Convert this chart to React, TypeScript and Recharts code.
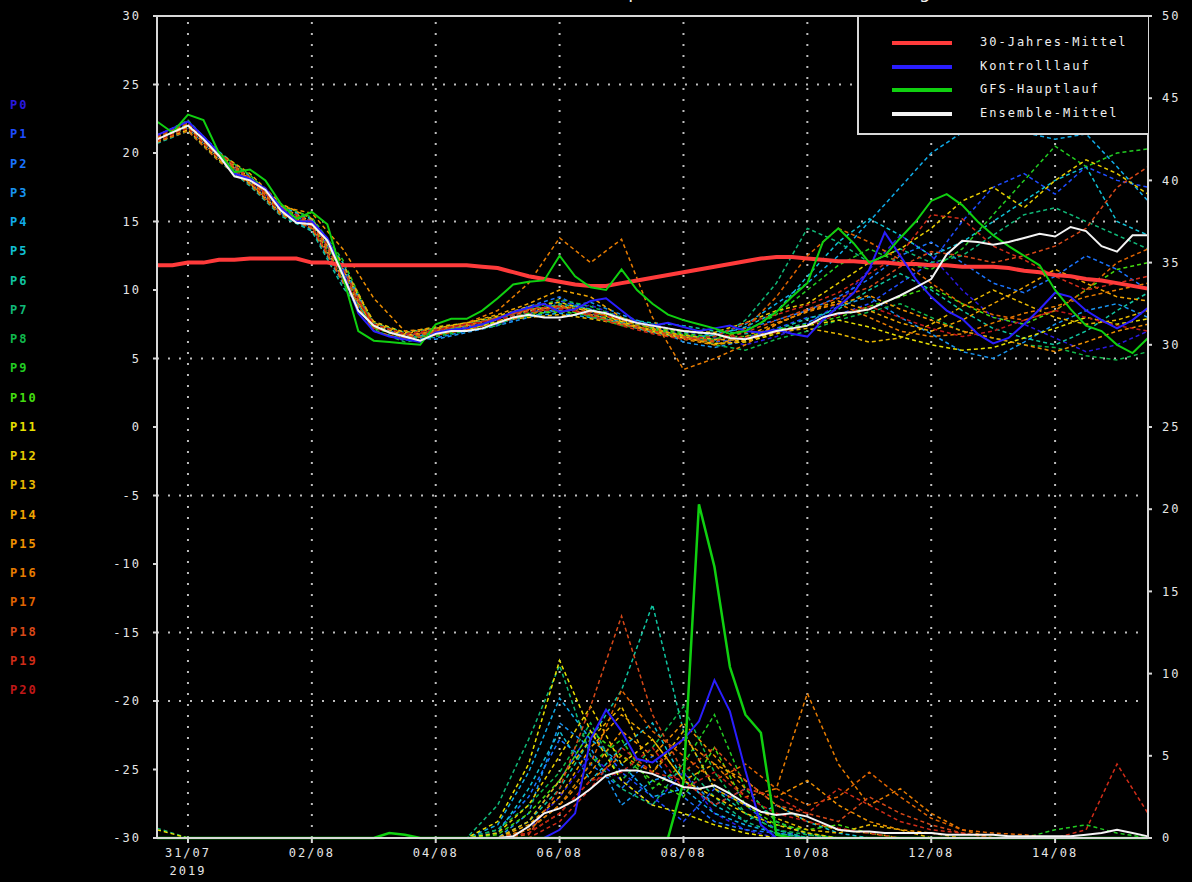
import { Line, LineChart, ReferenceLine, XAxis, YAxis } from "recharts";

// time axis: 6-hourly steps, step 0 = left edge of the frame
const steps = [
  0, 1, 2, 3, 4, 5, 6, 7, 8, 9, 10, 11, 12, 13, 14, 15, 16, 17, 18, 19, 20, 21, 22, 23, 24, 25, 26, 27, 28, 29, 30, 31,
  32, 33, 34, 35, 36, 37, 38, 39, 40, 41, 42, 43, 44, 45, 46, 47, 48, 49, 50, 51, 52, 53, 54, 55, 56, 57, 58, 59, 60,
  61, 62, 63, 64,
];
const dateTicks = [2, 10, 18, 26, 34, 42, 50, 58];
const dateLabels = ["31/07", "02/08", "04/08", "06/08", "08/08", "10/08", "12/08", "14/08"];
const yearLabel = "2019";

const tempTicks = [30, 25, 20, 15, 10, 5, 0, -5, -10, -15, -20, -25, -30];
const precipTicks = [0, 5, 10, 15, 20, 25, 30, 35, 40, 45, 50];
const tempGridLines = [25, 15, 5, -5, -15, -20];

// 6-hourly key series (temperature, °C)
const clim30 = [
  11.8, 11.8, 12.0, 12.0, 12.2, 12.2, 12.3, 12.3, 12.3, 12.3, 12.0, 12.0, 11.8, 11.8, 11.8, 11.8, 11.8, 11.8, 11.8, 11.8,
  11.8, 11.7, 11.6, 11.3, 11.0, 10.8, 10.6, 10.4, 10.3, 10.3, 10.5, 10.7, 10.9, 11.1, 11.3, 11.5, 11.7, 11.9, 12.1, 12.3,
  12.4, 12.4, 12.3, 12.2, 12.1, 12.1, 12.0, 12.0, 11.9, 11.9, 11.8, 11.8, 11.7, 11.7, 11.7, 11.6, 11.4, 11.3, 11.1, 11.0,
  10.8, 10.7, 10.5, 10.3, 10.1,
];
const tempControl = [
  21.3, 21.8, 22.3, 21.2, 20.0, 18.5, 18.1, 17.4, 16.0, 15.0, 15.0, 13.8, 11.3, 8.3, 7.0, 6.6, 6.4, 6.2, 6.9, 7.1,
  7.2, 7.5, 7.9, 8.4, 8.7, 9.0, 8.4, 8.6, 9.2, 9.4, 8.5, 7.6, 7.4, 7.6, 7.3, 7.0, 7.2, 7.4, 7.0, 6.9,
  7.1, 6.8, 6.6, 7.8, 8.8, 9.8, 11.5, 14.2, 12.5, 10.8, 9.5, 8.5, 7.9, 6.8, 6.1, 6.5, 7.5, 8.6, 9.8, 9.5,
  8.5, 7.8, 7.2, 7.8, 8.7,
];
const tempGfs = [
  22.3, 21.5, 22.8, 22.4, 20.0, 18.6, 18.8, 18.0, 16.3, 15.2, 15.7, 14.8, 11.0, 7.0, 6.3, 6.2, 6.1, 6.0, 7.5, 7.9,
  7.9, 8.5, 9.4, 10.4, 10.6, 10.7, 12.5, 11.0, 10.2, 10.0, 11.5, 10.0, 9.0, 8.2, 7.8, 7.5, 7.2, 6.8, 7.0, 7.6,
  8.4, 9.5, 10.5, 13.5, 14.5, 13.4, 12.0, 12.5, 13.8, 15.0, 16.5, 17.0, 16.2, 15.0, 14.0, 13.2, 12.5, 11.8, 10.0, 8.6,
  7.4, 7.0, 6.0, 5.4, 6.5,
];
const tempEnsMean = [
  21.0, 21.5, 22.0, 21.0, 19.8, 18.3, 18.0, 17.3, 15.8, 14.9, 14.8, 13.6, 11.1, 8.5, 7.4, 6.9, 6.6, 6.3, 6.8, 7.0,
  7.0, 7.2, 7.6, 8.0, 8.2, 8.0, 8.0, 8.2, 8.5, 8.3, 7.9, 7.6, 7.4, 7.2, 7.0, 6.9, 6.8, 6.5, 6.4, 6.7,
  7.0, 7.2, 7.4, 8.0, 8.3, 8.4, 8.6, 9.1, 9.6, 10.2, 10.8, 12.6, 13.6, 13.5, 13.3, 13.5, 13.8, 14.1, 13.9, 14.6,
  14.3, 13.2, 12.8, 14.0, 14.0,
];

// 6-hourly key series (precipitation, mm)
const precipControl = [
  0, 0, 0, 0, 0, 0, 0, 0, 0, 0, 0, 0, 0, 0, 0, 0, 0, 0, 0, 0, 0, 0, 0, 0, 0, 0,
  0.5, 1.5, 6.0, 7.8, 6.5, 4.8, 4.6, 5.3, 6.0, 7.1, 9.6, 7.7, 4.1, 0.8, 0,
  0, 0, 0, 0, 0, 0, 0, 0, 0, 0, 0, 0, 0, 0, 0, 0, 0, 0, 0, 0, 0, 0, 0, 0,
];
const precipGfs = [
  0, 0, 0, 0, 0, 0, 0, 0, 0, 0, 0, 0, 0, 0, 0, 0.3, 0.2, 0, 0, 0, 0, 0, 0, 0, 0, 0, 0, 0, 0, 0, 0, 0, 0, 0,
  3.4, 20.3, 16.5, 10.4, 7.5, 6.4, 0.2,
  0, 0, 0, 0, 0, 0, 0, 0, 0, 0, 0, 0, 0, 0, 0, 0, 0, 0, 0, 0, 0, 0, 0, 0,
];
const precipEnsMean = [
  0, 0, 0, 0, 0, 0, 0, 0, 0, 0, 0, 0, 0, 0, 0, 0, 0, 0, 0, 0, 0, 0,
  0, 0.1, 0.7, 1.5, 1.8, 2.3, 3.0, 3.8, 4.1, 4.1, 3.9, 3.5, 3.1, 3.0, 3.2, 2.7, 2.1, 1.6, 1.4, 1.5, 1.3, 0.9,
  0.5, 0.4, 0.4, 0.3, 0.3, 0.3, 0.3, 0.2, 0.2, 0.2, 0.2, 0.1, 0.1, 0.1, 0.1, 0.1, 0.2, 0.3, 0.5, 0.3, 0.1,
];

// ensemble members, 12-hourly (every second step)
const memberNames = [
  "P0", "P1", "P2", "P3", "P4", "P5", "P6", "P7", "P8", "P9", "P10",
  "P11", "P12", "P13", "P14", "P15", "P16", "P17", "P18", "P19", "P20",
];
const memberColors = [
  "#2a18e0", "#1e4cff", "#1a74ff", "#1894f0", "#10acea", "#10c0d4", "#10c4a0", "#10b878", "#10b84c", "#22cc22", "#44dc10",
  "#e8e000", "#e8cc00", "#e8b800", "#f0a400", "#f09000", "#e87c00", "#e06400", "#d84818", "#d02c18", "#c01818",
];
const memberTemp = [
  [21.2, 22.2, 19.9, 18.1, 15.9, 15.0, 11.4, 7.6, 6.5, 6.8, 7.2, 7.8, 8.5, 8.4, 8.9, 8.0, 7.2, 6.8, 6.5, 6.0, 6.6, 7.5, 9.0, 11.5, 14.0, 12.5, 10.0, 8.0, 7.5, 6.5, 5.5, 6.0, 7.0],
  [20.9, 21.9, 19.6, 17.9, 15.6, 14.6, 10.8, 7.0, 6.3, 7.0, 7.4, 7.5, 8.2, 9.2, 8.6, 7.6, 7.0, 6.6, 6.2, 6.5, 7.2, 8.0, 8.2, 9.0, 10.5, 12.0, 15.0, 17.5, 18.5, 17.0, 19.0, 18.0, 17.5],
  [21.1, 21.8, 19.7, 17.8, 15.7, 14.9, 11.6, 7.2, 6.8, 6.5, 7.0, 7.9, 8.8, 9.5, 8.4, 7.8, 7.5, 6.9, 6.8, 7.2, 7.8, 8.5, 9.5, 10.8, 12.5, 13.5, 12.0, 10.5, 9.8, 11.0, 12.5, 11.5, 10.0],
  [20.8, 21.7, 19.5, 17.7, 15.5, 14.4, 10.5, 7.3, 6.6, 6.4, 6.9, 7.4, 8.0, 8.7, 9.1, 8.2, 7.4, 6.2, 5.8, 6.3, 7.0, 7.6, 8.8, 9.5, 8.0, 6.8, 5.5, 5.0, 6.2, 7.5, 8.5, 9.0, 8.0],
  [21.0, 22.1, 19.9, 18.2, 16.0, 15.1, 11.8, 7.5, 6.6, 7.1, 7.3, 7.6, 8.1, 8.3, 8.0, 7.7, 7.3, 7.0, 6.7, 7.5, 9.0, 10.5, 12.5, 15.0, 17.5, 20.0, 21.5, 21.8, 21.5, 21.0, 21.4, 19.0, 16.5],
  [21.3, 22.3, 20.1, 18.3, 16.1, 15.2, 12.0, 7.0, 6.4, 6.9, 7.2, 7.7, 8.4, 8.5, 8.3, 7.5, 6.9, 6.5, 6.7, 7.3, 8.4, 11.0, 13.5, 15.2, 14.0, 12.5, 13.5, 15.0, 16.5, 18.0, 19.0, 15.0, 14.0],
  [20.7, 21.6, 19.4, 17.6, 15.4, 14.3, 10.2, 7.4, 6.7, 6.8, 7.5, 8.0, 8.3, 9.0, 8.6, 7.9, 7.6, 7.4, 7.0, 6.8, 7.1, 7.9, 8.6, 10.0, 11.2, 10.0, 8.5, 7.2, 6.5, 6.0, 7.0, 8.5, 9.8],
  [21.1, 22.0, 19.8, 18.0, 15.9, 14.7, 11.0, 7.6, 6.9, 7.2, 7.6, 7.9, 8.6, 8.9, 8.0, 7.6, 7.0, 6.6, 6.3, 7.8, 10.5, 14.5, 13.5, 12.0, 13.0, 12.0, 12.5, 14.0, 15.5, 16.0, 15.0, 14.0, 13.0],
  [20.9, 21.8, 19.6, 17.9, 15.7, 14.6, 10.9, 7.1, 6.2, 6.6, 7.0, 7.4, 8.6, 9.3, 8.8, 8.0, 7.3, 6.9, 6.0, 5.6, 6.4, 7.0, 7.8, 8.4, 9.0, 8.0, 7.0, 6.5, 6.0, 5.8, 5.2, 4.9, 5.5],
  [21.2, 22.4, 20.0, 18.4, 16.2, 15.3, 12.2, 7.3, 6.5, 6.7, 7.1, 7.7, 8.1, 8.6, 8.1, 7.4, 7.1, 6.7, 6.4, 7.0, 8.2, 10.0, 11.8, 13.0, 12.0, 11.5, 13.0, 15.5, 18.0, 20.5, 19.0, 20.0, 20.3],
  [21.0, 21.9, 19.7, 17.9, 15.8, 14.8, 11.3, 7.2, 6.6, 6.9, 7.4, 7.6, 8.3, 8.4, 8.2, 7.8, 7.2, 6.8, 6.6, 6.6, 7.1, 7.5, 8.0, 8.8, 9.5, 10.2, 9.0, 8.0, 7.5, 8.5, 10.0, 11.5, 12.0],
  [20.8, 21.7, 19.5, 17.8, 15.6, 14.5, 10.7, 7.5, 6.7, 7.0, 7.1, 7.7, 8.5, 8.8, 8.5, 7.7, 7.0, 6.5, 6.1, 6.2, 6.8, 7.4, 7.8, 7.3, 6.6, 6.0, 5.6, 5.8, 6.5, 7.2, 8.0, 7.5, 7.9],
  [21.2, 22.1, 19.9, 18.2, 16.0, 15.0, 11.5, 7.7, 6.9, 7.3, 7.6, 8.1, 8.8, 9.1, 8.5, 7.8, 7.3, 7.0, 6.9, 7.6, 8.5, 9.0, 10.5, 12.0, 13.0, 14.5, 16.5, 17.5, 16.0, 18.0, 19.5, 18.5, 17.0],
  [21.0, 21.9, 19.6, 17.8, 15.7, 14.7, 10.9, 7.3, 6.5, 7.1, 7.5, 7.8, 8.0, 8.2, 7.9, 7.5, 7.1, 6.7, 6.4, 6.3, 6.9, 7.2, 6.8, 6.2, 6.5, 7.5, 8.8, 10.0, 9.0, 8.0, 7.5, 7.8, 8.5],
  [21.3, 22.2, 20.0, 18.5, 16.3, 15.2, 11.9, 7.6, 6.8, 7.2, 7.6, 8.2, 9.0, 10.0, 9.5, 8.0, 7.2, 6.6, 6.0, 6.3, 7.5, 8.5, 9.2, 8.5, 7.6, 7.0, 7.8, 9.0, 10.2, 11.5, 10.5, 9.5, 9.2],
  [20.9, 21.8, 19.7, 18.1, 16.1, 15.6, 13.0, 9.4, 7.0, 7.2, 7.4, 8.0, 8.6, 8.8, 8.2, 7.6, 6.9, 6.4, 6.0, 6.6, 7.6, 8.4, 9.0, 9.6, 8.6, 7.8, 7.0, 6.5, 6.0, 5.5, 6.2, 7.0, 7.5],
  [21.1, 22.0, 19.8, 18.0, 15.8, 14.9, 11.2, 7.3, 6.6, 7.0, 7.6, 8.5, 10.5, 13.8, 12.0, 13.7, 8.0, 4.2, 5.0, 6.0, 7.5, 8.5, 9.0, 8.0, 7.0, 6.6, 6.8, 7.6, 8.3, 8.8, 9.5, 10.0, 10.5],
  [20.8, 21.6, 19.4, 17.7, 15.5, 14.5, 10.6, 7.0, 6.4, 6.7, 7.1, 7.6, 8.2, 8.9, 8.4, 7.8, 7.0, 6.5, 6.2, 7.2, 9.5, 12.5, 14.5, 13.5, 12.2, 10.5, 9.0, 8.2, 7.8, 8.5, 10.0, 12.0, 13.0],
  [21.0, 22.0, 19.8, 18.1, 15.9, 14.8, 11.2, 7.4, 6.5, 6.9, 7.3, 8.0, 8.5, 8.7, 8.2, 7.5, 7.0, 6.6, 6.3, 6.9, 7.8, 8.6, 9.4, 10.2, 11.7, 12.8, 12.5, 12.0, 12.5, 13.2, 14.5, 17.5, 19.0],
  [21.2, 22.2, 20.0, 18.2, 16.0, 15.0, 11.6, 7.2, 6.7, 7.0, 7.5, 7.9, 8.6, 8.8, 8.1, 7.4, 6.8, 6.4, 6.6, 7.6, 8.2, 8.9, 9.8, 11.2, 12.6, 15.5, 15.2, 13.2, 12.2, 11.0, 10.0, 10.5, 11.0],
  [20.9, 21.8, 19.6, 17.9, 15.7, 14.6, 10.8, 7.5, 6.8, 7.1, 7.5, 7.8, 8.4, 8.6, 8.3, 7.9, 7.4, 7.0, 6.8, 6.5, 6.9, 7.4, 8.2, 8.8, 8.0, 7.2, 6.6, 7.0, 7.8, 8.5, 8.0, 7.4, 7.0],
];
const memberPrecip = [
  [0, 0, 0, 0, 0, 0, 0, 0, 0, 0, 0, 0, 0.5, 2.5, 5.0, 3.5, 2.0, 4.0, 1.5, 0.5, 0, 0, 0, 0, 0, 0, 0, 0, 0, 0, 0, 0, 0],
  [0, 0, 0, 0, 0, 0, 0, 0, 0, 0, 0, 0, 1.0, 3.5, 6.5, 4.0, 2.5, 1.0, 3.0, 2.0, 0.5, 0, 0, 0, 0, 0, 0, 0, 0, 0, 0, 0, 0],
  [0, 0, 0, 0, 0, 0, 0, 0, 0, 0, 0, 0.5, 2.5, 6.0, 4.5, 3.0, 5.0, 2.5, 1.0, 0.5, 0.3, 0, 0, 0, 0, 0, 0, 0, 0, 0, 0, 0, 0],
  [0, 0, 0, 0, 0, 0, 0, 0, 0, 0, 0, 0, 1.5, 7.0, 5.5, 2.0, 3.5, 4.0, 2.0, 3.0, 1.0, 0.2, 0, 0, 0, 0, 0, 0, 0, 0, 0, 0, 0],
  [0, 0, 0, 0, 0, 0, 0, 0, 0, 0, 0, 0.8, 4.0, 8.5, 6.0, 4.5, 2.5, 3.0, 1.5, 0.8, 0.3, 0, 0, 0, 0, 0, 0, 0, 0, 0, 0, 0, 0],
  [0, 0, 0, 0, 0, 0, 0, 0, 0, 0, 0, 0.3, 3.0, 6.5, 3.5, 5.5, 7.0, 3.5, 2.0, 1.0, 2.0, 1.0, 0.3, 0, 0, 0, 0, 0, 0, 0, 0, 0, 0],
  [0, 0, 0, 0, 0, 0, 0, 0, 0, 0, 0, 0, 1.0, 3.0, 6.0, 9.0, 14.2, 6.5, 3.0, 1.5, 0.5, 0, 0, 0, 0, 0, 0, 0, 0, 0, 0, 0, 0],
  [0.6, 0, 0, 0, 0, 0, 0, 0, 0, 0, 0, 2.0, 6.0, 10.5, 5.0, 3.0, 2.0, 4.5, 2.5, 1.0, 0.3, 0, 0, 0, 0, 0, 0, 0, 0, 0, 0, 0, 0],
  [0, 0, 0, 0, 0, 0, 0, 0, 0, 0, 0, 0.5, 2.0, 4.0, 7.0, 3.5, 5.5, 8.0, 4.0, 1.5, 0.5, 0.2, 0, 0, 0, 0, 0, 0, 0, 0, 0, 0, 0],
  [0, 0, 0, 0, 0, 0, 0, 0, 0, 0, 0, 0, 0.5, 2.0, 4.5, 6.0, 3.0, 4.5, 7.5, 3.0, 1.0, 0.3, 0, 0, 0, 0, 0, 0, 0, 0.5, 0.8, 0.3, 0],
  [0, 0, 0, 0, 0, 0, 0, 0, 0, 0, 0, 0.2, 1.5, 3.5, 6.5, 5.0, 3.5, 2.5, 5.5, 2.0, 0.8, 0.5, 0.8, 0.3, 0, 0, 0, 0, 0, 0, 0, 0, 0],
  [0.5, 0, 0, 0, 0, 0, 0, 0, 0, 0, 0, 1.0, 4.5, 10.8, 6.5, 3.5, 2.0, 1.5, 0.8, 0.3, 0, 0, 0, 0, 0, 0, 0, 0, 0, 0, 0, 0, 0],
  [0, 0, 0, 0, 0, 0, 0, 0, 0, 0, 0, 0.3, 2.0, 5.0, 8.0, 4.5, 6.0, 3.5, 2.5, 1.5, 0.8, 0.3, 0, 0, 0, 0, 0, 0, 0, 0, 0, 0, 0],
  [0, 0, 0, 0, 0, 0, 0, 0, 0, 0, 0, 0, 1.0, 3.5, 6.0, 8.0, 4.0, 6.5, 3.0, 2.0, 1.2, 0.5, 0.3, 0.8, 0.5, 0, 0, 0, 0, 0, 0, 0, 0],
  [0, 0, 0, 0, 0, 0, 0, 0, 0, 0, 0, 0, 0.8, 2.5, 5.5, 7.5, 6.0, 3.5, 4.5, 3.5, 2.0, 1.0, 0.5, 0.3, 0, 0, 0, 0, 0, 0, 0, 0, 0],
  [0, 0, 0, 0, 0, 0, 0, 0, 0, 0, 0, 0, 0.5, 2.0, 4.0, 6.5, 5.0, 7.0, 5.0, 3.0, 2.5, 3.5, 2.0, 1.0, 0.5, 0.3, 0, 0, 0, 0, 0, 0, 0],
  [0, 0, 0, 0, 0, 0, 0, 0, 0, 0, 0, 0, 0.3, 1.5, 3.5, 5.0, 4.0, 6.0, 4.5, 2.5, 3.0, 8.8, 4.5, 2.0, 3.0, 1.5, 0.5, 0, 0, 0, 0, 0, 0],
  [0, 0, 0, 0, 0, 0, 0, 0, 0, 0, 0, 0, 0.5, 2.0, 4.5, 9.0, 6.5, 5.0, 3.5, 4.5, 3.0, 2.0, 2.5, 4.0, 2.5, 1.2, 0.5, 0.3, 0.2, 0, 0, 0, 0],
  [0, 0, 0, 0, 0, 0, 0, 0, 0, 0, 0, 0, 0.2, 3.0, 8.0, 13.5, 7.5, 4.0, 5.5, 3.5, 2.0, 1.5, 1.0, 2.5, 1.5, 0.8, 0.3, 0, 0, 0, 0, 0, 0],
  [0, 0, 0, 0, 0, 0, 0, 0, 0, 0, 0, 0, 0, 1.0, 3.0, 5.5, 4.0, 3.5, 2.0, 3.0, 2.5, 1.5, 3.0, 2.0, 1.0, 0.5, 0.3, 0, 0, 0, 0.5, 4.5, 1.5],
  [0, 0, 0, 0, 0, 0, 0, 0, 0, 0, 0, 0, 0.3, 1.5, 3.5, 4.0, 5.5, 3.0, 4.0, 2.5, 1.5, 1.0, 0.6, 0.3, 0, 0, 0, 0, 0, 0, 0, 0, 0],
];

const legendItems = [
  { label: "30-Jahres-Mittel", color: "#ff3b3b" },
  { label: "Kontrolllauf", color: "#2a1eff" },
  { label: "GFS-Hauptlauf", color: "#10d010" },
  { label: "Ensemble-Mittel", color: "#f4f4f4" },
];

const rows = steps.map((step, i) => {
  const row: Record<string, number | null> = {
    step,
    clim30: clim30[i],
    tControl: tempControl[i],
    tGfs: tempGfs[i],
    tMean: tempEnsMean[i],
    pControl: precipControl[i],
    pGfs: precipGfs[i],
    pMean: precipEnsMean[i],
  };
  memberNames.forEach((name, m) => {
    row[`t_${name}`] = i % 2 === 0 ? memberTemp[m][i / 2] : null;
    row[`p_${name}`] = i % 2 === 0 ? memberPrecip[m][i / 2] : null;
  });
  return row;
});

const pixelFont = { fontFamily: "'DejaVu Sans Mono', monospace", fontSize: 12, letterSpacing: 2 };
const frameColor = "#d8d8d8";
const gridDots = "2 9";

const DateTick = (props: any) => {
  const { x, y, payload } = props;
  const idx = dateTicks.indexOf(payload.value);
  return (
    <g>
      <text x={x} y={y + 12} textAnchor="middle" fill="#e6e6e6" style={pixelFont}>
        {dateLabels[idx]}
      </text>
      {idx === 0 && (
        <text x={x} y={y + 30} textAnchor="middle" fill="#e6e6e6" style={pixelFont}>
          {yearLabel}
        </text>
      )}
    </g>
  );
};

const App = () => {
  return (
    <div style={{ position: "relative", width: 1192, height: 882, background: "#000", overflow: "hidden" }}>
      <style>{"body{margin:0;background:#000}"}</style>
      <LineChart width={1192} height={882} data={rows} margin={{ top: 16, right: 0, bottom: 0, left: 117 }}>
        <XAxis
          dataKey="step"
          type="number"
          domain={[0, 64]}
          ticks={dateTicks}
          tick={<DateTick />}
          height={44}
          tickSize={5}
          tickMargin={2}
          stroke={frameColor}
          strokeWidth={2}
        />
        <YAxis
          yAxisId="t"
          orientation="left"
          type="number"
          domain={[-30, 30]}
          ticks={tempTicks}
          width={40}
          tickSize={4}
          tickMargin={12}
          stroke={frameColor}
          strokeWidth={2}
          tick={{ fill: "#e6e6e6", ...pixelFont }}
          interval={0}
        />
        <YAxis
          yAxisId="p"
          orientation="right"
          type="number"
          domain={[0, 50]}
          ticks={precipTicks}
          width={44}
          tickSize={4}
          tickMargin={10}
          stroke={frameColor}
          strokeWidth={2}
          tick={{ fill: "#e6e6e6", ...pixelFont }}
          interval={0}
        />
        {tempGridLines.map((v) => (
          <ReferenceLine key={`h${v}`} yAxisId="t" y={v} stroke="#bdbdbd" strokeWidth={2} strokeDasharray={gridDots} />
        ))}
        {dateTicks.map((v) => (
          <ReferenceLine key={`v${v}`} yAxisId="t" x={v} stroke="#bdbdbd" strokeWidth={2} strokeDasharray={gridDots} />
        ))}
        <ReferenceLine yAxisId="t" y={30} stroke={frameColor} strokeWidth={2} />

        {memberNames.map((name, m) => (
          <Line
            key={`t_${name}`}
            yAxisId="t"
            dataKey={`t_${name}`}
            stroke={memberColors[m]}
            strokeWidth={1.5}
            strokeDasharray="4 3"
            dot={false}
            connectNulls
            isAnimationActive={false}
          />
        ))}
        {memberNames.map((name, m) => (
          <Line
            key={`p_${name}`}
            yAxisId="p"
            dataKey={`p_${name}`}
            stroke={memberColors[m]}
            strokeWidth={1.5}
            strokeDasharray="4 3"
            dot={false}
            connectNulls
            isAnimationActive={false}
          />
        ))}
        <Line yAxisId="t" dataKey="clim30" stroke="#ff3b3b" strokeWidth={4} dot={false} isAnimationActive={false} />
        <Line yAxisId="t" dataKey="tControl" stroke="#2a1eff" strokeWidth={2} dot={false} isAnimationActive={false} />
        <Line yAxisId="p" dataKey="pControl" stroke="#2a1eff" strokeWidth={2} dot={false} isAnimationActive={false} />
        <Line yAxisId="t" dataKey="tGfs" stroke="#10d010" strokeWidth={2} dot={false} isAnimationActive={false} />
        <Line yAxisId="p" dataKey="pGfs" stroke="#10d010" strokeWidth={2.5} dot={false} isAnimationActive={false} />
        <Line yAxisId="t" dataKey="tMean" stroke="#f4f4f4" strokeWidth={2} dot={false} isAnimationActive={false} />
        <Line yAxisId="p" dataKey="pMean" stroke="#f4f4f4" strokeWidth={2} dot={false} isAnimationActive={false} />
      </LineChart>

      {/* title sits mostly above the page edge in the reference, only its descenders show */}
      <div
        style={{
          position: "absolute",
          top: -19,
          left: 540,
          width: 440,
          lineHeight: "22px",
          textAlign: "center",
          color: "#f0f0f0",
          fontFamily: "'DejaVu Sans', sans-serif",
          fontSize: 18,
          letterSpacing: 1,
        }}
      >
        Temperatur 850 hPa, Niederschlag
      </div>

      <div
        style={{
          position: "absolute",
          left: 857,
          top: 15,
          width: 291,
          height: 120,
          background: "#000",
          borderLeft: `2px solid ${frameColor}`,
          borderBottom: `2px solid ${frameColor}`,
          borderTop: `2px solid ${frameColor}`,
          boxSizing: "border-box",
        }}
      >
        {legendItems.map((item, i) => (
          <div key={item.label} style={{ position: "absolute", left: 0, top: 19 + i * 23.5, height: 14, width: 289 }}>
            <div style={{ position: "absolute", left: 33, top: 5, width: 60, height: 4, background: item.color }} />
            <span style={{ position: "absolute", left: 121, top: -1, color: "#f0f0f0", whiteSpace: "nowrap", ...pixelFont }}>
              {item.label}
            </span>
          </div>
        ))}
      </div>

      {memberNames.map((name, m) => (
        <span
          key={name}
          style={{
            position: "absolute",
            left: 10,
            top: 98 + m * 29.25,
            color: memberColors[m],
            fontWeight: "bold",
            whiteSpace: "nowrap",
            ...pixelFont,
          }}
        >
          {name}
        </span>
      ))}
    </div>
  );
};

export default App;
